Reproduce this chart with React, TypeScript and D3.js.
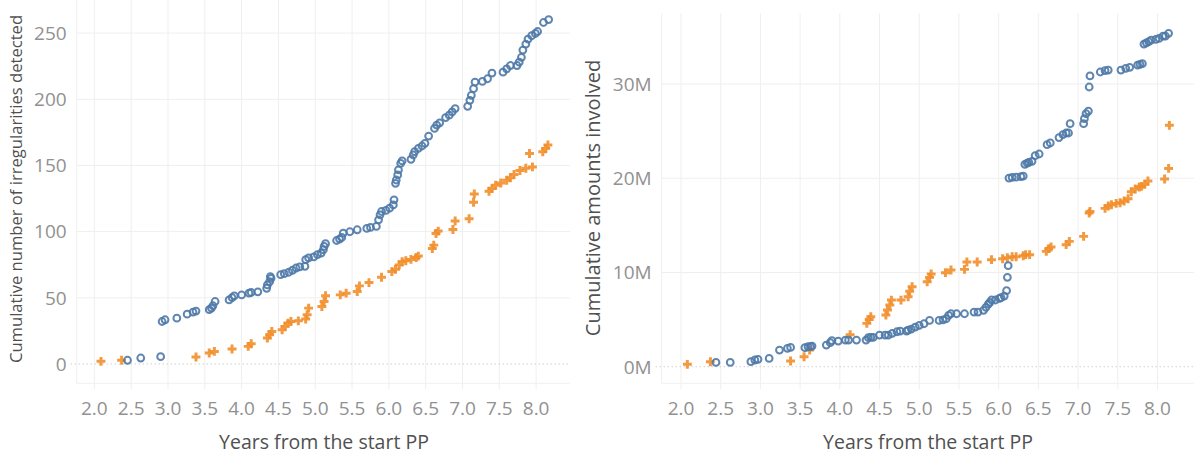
import React from "react";
import * as d3 from "d3";

// ---------- Data ----------
// Left panel: cumulative number of irregularities detected
const countBlueYears = [2.45, 2.63, 2.90, 2.92, 2.96, 3.12, 3.26, 3.34, 3.38, 3.56, 3.59, 3.61, 3.64, 3.83, 3.87, 3.90, 4.00, 4.10, 4.13, 4.22, 4.34, 4.35, 4.38, 4.40, 4.39, 4.53, 4.58, 4.64, 4.69, 4.74, 4.79, 4.86, 4.87, 4.91, 4.98, 5.03, 5.08, 5.11, 5.12, 5.14, 5.29, 5.33, 5.36, 5.38, 5.47, 5.57, 5.70, 5.75, 5.83, 5.86, 5.88, 5.90, 5.96, 6.01, 6.06, 6.07, 6.09, 6.10, 6.12, 6.13, 6.16, 6.18, 6.30, 6.33, 6.35, 6.40, 6.45, 6.49, 6.54, 6.62, 6.65, 6.69, 6.77, 6.82, 6.86, 6.90, 7.07, 7.10, 7.12, 7.15, 7.17, 7.27, 7.34, 7.40, 7.55, 7.60, 7.65, 7.74, 7.77, 7.80, 7.82, 7.86, 7.89, 7.94, 7.99, 8.02, 8.10, 8.17];
const countBlueValues = [2.8, 4.5, 5.5, 32.1, 33.4, 34.6, 37.6, 39.2, 40.0, 41.0, 42.2, 44.0, 47.2, 48.4, 50.2, 51.4, 52.2, 53.5, 54.0, 54.5, 57.2, 59.7, 62.2, 64.7, 66.0, 67.5, 68.2, 69.3, 70.8, 72.5, 73.3, 73.8, 78.8, 80.1, 80.9, 82.6, 83.8, 86.3, 88.8, 90.9, 93.3, 94.4, 95.6, 98.9, 99.9, 101.4, 102.4, 103.2, 103.9, 108.9, 112.7, 115.2, 116.0, 117.7, 120.2, 124.0, 136.5, 139.0, 142.8, 146.6, 151.6, 153.4, 154.6, 157.9, 160.4, 162.9, 164.7, 166.7, 172.2, 178.0, 180.5, 182.2, 186.2, 188.0, 190.5, 193.0, 194.7, 199.2, 203.0, 208.0, 213.0, 213.5, 215.5, 219.8, 220.5, 223.0, 225.5, 225.5, 228.0, 231.7, 237.2, 241.7, 245.5, 248.0, 249.7, 251.2, 258.0, 260.2];

const countOrangeYears = [2.09, 2.37, 3.38, 3.56, 3.63, 3.87, 4.09, 4.13, 4.35, 4.38, 4.41, 4.55, 4.59, 4.63, 4.67, 4.77, 4.87, 4.89, 4.91, 5.09, 5.12, 5.14, 5.34, 5.42, 5.57, 5.60, 5.73, 5.90, 6.04, 6.09, 6.14, 6.18, 6.23, 6.30, 6.37, 6.40, 6.59, 6.61, 6.64, 6.67, 6.87, 6.90, 7.09, 7.15, 7.16, 7.36, 7.40, 7.45, 7.52, 7.60, 7.65, 7.70, 7.78, 7.86, 7.91, 7.95, 8.09, 8.13, 8.16];
const countOrangeValues = [2.0, 2.8, 5.3, 8.3, 9.5, 11.3, 13.3, 15.3, 19.6, 22.1, 24.6, 25.9, 28.4, 30.9, 32.1, 32.6, 33.9, 37.2, 42.2, 43.4, 47.2, 51.5, 52.2, 53.5, 54.7, 59.0, 61.5, 65.5, 69.8, 71.5, 74.8, 77.3, 78.0, 79.0, 80.5, 81.5, 87.3, 89.8, 98.6, 100.4, 101.6, 108.0, 109.7, 122.2, 128.5, 130.5, 132.5, 135.0, 136.7, 138.8, 140.7, 143.2, 146.2, 147.9, 159.0, 148.9, 160.4, 162.9, 165.4];

// Right panel: cumulative amounts involved (millions)
const amountBlueYears = [2.44, 2.62, 2.88, 2.93, 2.97, 3.11, 3.24, 3.34, 3.38, 3.56, 3.60, 3.63, 3.65, 3.83, 3.88, 3.90, 3.98, 4.07, 4.11, 4.21, 4.33, 4.36, 4.39, 4.42, 4.50, 4.57, 4.61, 4.66, 4.72, 4.76, 4.84, 4.86, 4.90, 4.95, 5.00, 5.06, 5.13, 5.25, 5.30, 5.34, 5.37, 5.40, 5.47, 5.57, 5.69, 5.74, 5.81, 5.84, 5.87, 5.89, 5.91, 5.96, 6.01, 6.03, 6.07, 6.10, 6.11, 6.12, 6.13, 6.17, 6.22, 6.28, 6.31, 6.33, 6.36, 6.38, 6.42, 6.46, 6.51, 6.61, 6.65, 6.76, 6.81, 6.85, 6.88, 6.90, 7.07, 7.08, 7.10, 7.13, 7.14, 7.15, 7.28, 7.34, 7.38, 7.54, 7.60, 7.65, 7.75, 7.78, 7.81, 7.83, 7.86, 7.89, 7.92, 7.98, 8.02, 8.07, 8.10, 8.14];
const amountBlueValues = [0.46, 0.46, 0.53, 0.71, 0.78, 0.88, 1.77, 1.95, 2.05, 2.02, 2.12, 2.12, 2.19, 2.30, 2.55, 2.76, 2.72, 2.83, 2.83, 2.83, 2.83, 3.08, 3.11, 3.11, 3.36, 3.36, 3.36, 3.54, 3.71, 3.78, 3.78, 3.89, 3.99, 4.21, 4.39, 4.56, 4.91, 4.91, 4.98, 5.09, 5.45, 5.62, 5.62, 5.62, 5.80, 5.80, 5.98, 6.30, 6.65, 6.83, 7.08, 7.08, 7.25, 7.32, 7.50, 8.07, 9.48, 10.72, 20.02, 20.09, 20.12, 20.16, 20.23, 21.47, 21.61, 21.68, 21.79, 22.39, 22.57, 23.56, 23.74, 24.31, 24.63, 24.80, 24.80, 25.79, 25.79, 26.32, 26.85, 27.13, 29.68, 30.85, 31.27, 31.41, 31.48, 31.48, 31.66, 31.77, 32.01, 32.09, 32.16, 34.23, 34.37, 34.48, 34.66, 34.73, 34.83, 35.08, 35.08, 35.37];

const amountOrangeYears = [2.08, 2.37, 3.38, 3.55, 3.62, 4.13, 4.34, 4.37, 4.39, 4.58, 4.60, 4.63, 4.65, 4.77, 4.86, 4.88, 4.91, 5.10, 5.13, 5.15, 5.33, 5.40, 5.57, 5.60, 5.73, 5.91, 6.05, 6.11, 6.17, 6.22, 6.31, 6.34, 6.39, 6.60, 6.63, 6.66, 6.85, 6.89, 7.07, 7.14, 7.15, 7.34, 7.38, 7.42, 7.48, 7.53, 7.58, 7.63, 7.67, 7.72, 7.77, 7.80, 7.84, 7.88, 8.09, 8.14, 8.15];
const amountOrangeValues = [0.25, 0.53, 0.60, 1.06, 1.77, 3.40, 4.60, 5.02, 5.31, 5.48, 6.01, 6.54, 7.07, 7.07, 7.43, 8.00, 8.49, 9.02, 9.48, 9.83, 9.98, 10.26, 10.33, 11.11, 11.11, 11.36, 11.46, 11.57, 11.67, 11.67, 11.78, 11.89, 11.89, 12.24, 12.53, 12.70, 12.95, 13.30, 13.83, 16.30, 16.48, 16.80, 17.05, 17.19, 17.33, 17.40, 17.58, 17.83, 18.57, 18.85, 19.07, 19.14, 19.35, 19.70, 19.91, 21.04, 25.61];

const xTicks = [2.0, 2.5, 3.0, 3.5, 4.0, 4.5, 5.0, 5.5, 6.0, 6.5, 7.0, 7.5, 8.0];
const countTicks = [0, 50, 100, 150, 200, 250];
const amountTicks = [0, 10, 20, 30];

const xTitle = "Years from the start PP";
const countTitle = "Cumulative number of irregularities detected";
const amountTitle = "Cumulative amounts involved";

const BLUE = "#4e79a7";
const ORANGE = "#f28e2b";
const FONT = "'Open Sans', 'Noto Sans', sans-serif";

type PanelProps = {
  left: number; right: number; top: number; bottom: number;
  xDomain: [number, number]; yDomain: [number, number];
  yTicks: number[]; fmt: (v: number) => string;
  blueX: number[]; blueY: number[]; orangeX: number[]; orangeY: number[];
  yTitle: string; yTitleX: number; yTitleY: number; yTitleSize: number; xTitleX: number;
};

function Panel(p: PanelProps) {
  const x = d3.scaleLinear().domain(p.xDomain).range([p.left, p.right]);
  const y = d3.scaleLinear().domain(p.yDomain).range([p.bottom, p.top]);
  const plus = d3.symbol().type(d3.symbolCross).size(44)();
  return (
    <g>
      {p.yTicks.filter((t) => t !== 0).map((t) => (
        <line key={"hg" + t} x1={p.left} x2={p.right} y1={y(t)} y2={y(t)} stroke="#efefef" strokeWidth={1} />
      ))}
      {xTicks.map((t) => (
        <line key={"vg" + t} x1={x(t)} x2={x(t)} y1={p.top} y2={p.bottom + 6} stroke="#efefef" strokeWidth={1} />
      ))}
      <line x1={p.left} x2={p.left} y1={p.top} y2={p.bottom} stroke="#f0f0f0" strokeWidth={1} />
      <line x1={p.left} x2={p.right} y1={p.bottom} y2={p.bottom} stroke="#f0f0f0" strokeWidth={1} />
      <line x1={p.left - 6} x2={p.right} y1={y(0)} y2={y(0)} stroke="#b8b8b8" strokeWidth={1} strokeDasharray="1,3" />
      {p.yTicks.map((t) => (
        <text key={"yt" + t} x={p.left - 10} y={y(t)} dy="0.36em" textAnchor="end" fontSize={19} fill="#919191" fontFamily={FONT}>
          {p.fmt(t)}
        </text>
      ))}
      {xTicks.map((t) => (
        <text key={"xt" + t} x={x(t)} y={415} textAnchor="middle" fontSize={19} fill="#919191" fontFamily={FONT}>
          {t.toFixed(1)}
        </text>
      ))}
      <text x={p.xTitleX} y={449} textAnchor="middle" fontSize={19.5} fill="#505050" fontFamily={FONT}>{xTitle}</text>
      <text transform={`translate(${p.yTitleX},${p.yTitleY}) rotate(-90)`} textAnchor="middle" fontSize={p.yTitleSize} fill="#505050" fontFamily={FONT}>{p.yTitle}</text>
      {p.orangeX.map((v, i) => (
        <path key={"o" + i} d={plus} transform={`translate(${x(v)},${y(p.orangeY[i])})`} fill={ORANGE} fillOpacity={0.9} />
      ))}
      {p.blueX.map((v, i) => (
        <circle key={"b" + i} cx={x(v)} cy={y(p.blueY[i])} r={3.4} fill="none" stroke={BLUE} strokeWidth={2} strokeOpacity={0.9} />
      ))}
    </g>
  );
}

export default function App() {
  return (
    <svg width={1194} height={456} style={{ position: "absolute", left: 0, top: 0, background: "#fff" }}>
      <Panel left={76.7} right={570} top={0} bottom={383.3}
        xDomain={[1.76, 8.46]} yDomain={[-14.6, 275]}
        yTicks={countTicks} fmt={(v) => String(v)}
        blueX={countBlueYears} blueY={countBlueValues}
        orangeX={countOrangeYears} orangeY={countOrangeValues}
        yTitle={countTitle} yTitleX={22} yTitleY={189} yTitleSize={16.6} xTitleX={324} />
      <Panel left={661.7} right={1194} top={13.3} bottom={383.3}
        xDomain={[1.757, 8.46]} yDomain={[-1.76, 37.5]}
        yTicks={amountTicks} fmt={(v) => v + "M"}
        blueX={amountBlueYears} blueY={amountBlueValues}
        orangeX={amountOrangeYears} orangeY={amountOrangeValues}
        yTitle={amountTitle} yTitleX={600} yTitleY={198} yTitleSize={20} xTitleX={928} />
    </svg>
  );
}
